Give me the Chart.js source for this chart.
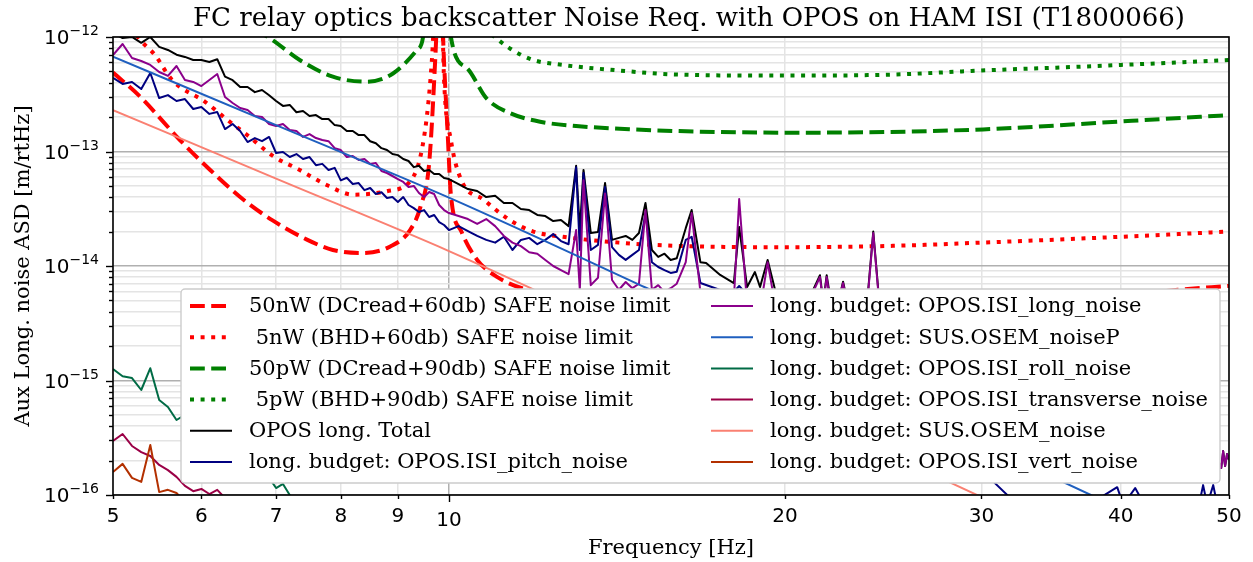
<!DOCTYPE html>
<html>
<head>
<meta charset="utf-8">
<script src="https://cdn.jsdelivr.net/npm/chart.js@4.4.0/dist/chart.umd.min.js"></script>
<style>
  html, body { margin: 0; padding: 0; background: #fff; }
  canvas { display: block; }
</style>
</head>
<body>
<canvas id="chart" width="1253" height="562"></canvas>
<script>
// axis ticks
const xTicks = [5, 6, 7, 8, 9, 10, 20, 30, 40, 50];
const yTicks = [
  1e-16, 2e-16, 3e-16, 4e-16, 5e-16, 6e-16, 7e-16, 8e-16, 9e-16,
  1e-15, 2e-15, 3e-15, 4e-15, 5e-15, 6e-15, 7e-15, 8e-15, 9e-15,
  1e-14, 2e-14, 3e-14, 4e-14, 5e-14, 6e-14, 7e-14, 8e-14, 9e-14,
  1e-13, 2e-13, 3e-13, 4e-13, 5e-13, 6e-13, 7e-13, 8e-13, 9e-13, 1e-12
];
const yDecades = [-12, -13, -14, -15, -16];

// SAFE noise limits
const fDc60 = [5.0, 5.29, 5.74, 6.11, 6.5, 6.95, 7.46, 7.87, 8.37, 8.86, 9.23, 9.43, 9.6, 9.73, 9.81, 9.9, 9.97, 10.04, 10.26, 10.6, 11.05, 11.75, 13, 15, 20, 25, 30, 35, 40, 45, 50];
const vDc60 = [4.9e-13, 3.0e-13, 1.26e-13, 6.9e-14, 4.0e-14, 2.5e-14, 1.7e-14, 1.38e-14, 1.3e-14, 1.48e-14, 2.06e-14, 3.3e-14, 7.9e-14, 7.7e-13, 5e-12, 5.9e-13, 1.54e-13, 4.2e-14, 2.0e-14, 1.13e-14, 8.0e-15, 6.2e-15, 5.4e-15, 5.1e-15, 4.6e-15, 4.7e-15, 4.9e-15, 5.1e-15, 5.5e-15, 6.2e-15, 6.7e-15];

const fBhd60 = [5.0, 5.29, 5.45, 5.65, 6.05, 6.37, 6.59, 6.96, 7.35, 7.77, 8.21, 8.8, 9.29, 9.52, 9.65, 9.81, 9.9, 10.04, 10.26, 10.74, 11.35, 11.9, 12.65, 14.2, 16, 20, 25, 30, 35, 40, 45, 50];
const vBhd60 = [2.1e-12, 9.4e-13, 7.0e-13, 4.2e-13, 2.7e-13, 1.8e-13, 1.4e-13, 9.1e-14, 6.9e-14, 5.1e-14, 4.2e-14, 4.5e-14, 6.0e-14, 1.54e-13, 5.9e-13, 1e-11, 4.2e-13, 1.26e-13, 5.6e-14, 3.8e-14, 2.5e-14, 2.0e-14, 1.8e-14, 1.6e-14, 1.5e-14, 1.46e-14, 1.5e-14, 1.6e-14, 1.7e-14, 1.8e-14, 1.9e-14, 2.0e-14];

const fDc90 = [5.0, 5.74, 6.5, 6.95, 7.35, 7.87, 8.44, 8.91, 9.36, 9.48, 9.81, 10.04, 10.37, 10.81, 11.35, 12.07, 13.0, 14.6, 16.8, 20.6, 30.1, 39.7, 50];
const vDc90 = [1.5e-11, 4.0e-12, 1.4e-12, 9.4e-13, 6.3e-13, 4.5e-13, 4.07e-13, 4.8e-13, 7.7e-13, 1.0e-12, 1e-10, 1.0e-12, 5.4e-13, 2.9e-13, 2.16e-13, 1.82e-13, 1.67e-13, 1.56e-13, 1.49e-13, 1.46e-13, 1.56e-13, 1.82e-13, 2.08e-13];

const fBhd90 = [5.0, 8.21, 9.29, 9.65, 9.81, 10.04, 10.26, 10.74, 11.35, 11.9, 12.65, 14.2, 16, 20, 25, 30, 35, 40, 45, 50];
const vBhd90 = [6.6e-11, 1.3e-12, 1.9e-12, 1.9e-11, 3e-10, 4.0e-12, 1.77e-12, 1.2e-12, 7.9e-13, 6.3e-13, 5.7e-13, 5.1e-13, 4.7e-13, 4.6e-13, 4.7e-13, 5.1e-13, 5.4e-13, 5.7e-13, 6.0e-13, 6.3e-13];

// measured budget, frequency grid [Hz]
const freqA = [5.0, 5.1, 5.2, 5.3, 5.4, 5.5, 5.6, 5.7, 5.8, 5.9, 6.0, 6.1, 6.2, 6.3, 6.4, 6.5, 6.6, 6.7, 6.8, 6.9, 7.0, 7.1, 7.2, 7.3, 7.4, 7.5, 7.6, 7.7, 7.8, 7.9, 8.0, 8.1, 8.2, 8.3, 8.4, 8.5, 8.6, 8.7, 8.8, 8.9, 9.0, 9.1, 9.2, 9.3, 9.4, 9.5, 9.6, 9.7, 9.8, 9.9, 10.0];
const freqB = [10.2, 10.4, 10.6, 10.8, 11.0, 11.2, 11.4, 11.6, 11.8, 12.0, 12.2, 12.4, 12.6, 12.8, 13.0, 13.1, 13.2, 13.4, 13.6, 13.8, 14.0, 14.2, 14.4, 14.6, 14.8, 15.0, 15.2, 15.4, 15.6, 15.8, 16.0];
const freqC = [16.3, 16.5, 16.8, 17.0, 17.5, 18.0, 18.2, 18.5, 18.8, 19.0, 19.3, 19.6, 20.0, 21.0, 21.5, 21.65, 21.8, 22.0, 22.3, 22.55, 22.8, 23.75, 24.0, 24.25, 25, 26, 28, 30, 32, 35, 38, 39.7, 40.2, 41.2, 42, 45, 47, 47.4, 47.8, 48.4, 48.8, 49.2, 49.4, 49.6, 49.8, 50];
const freqLow = [5.0, 5.1, 5.2, 5.3, 5.4, 5.5, 5.6, 5.7, 5.8, 5.9, 6.0, 6.1, 6.2, 6.3, 6.4, 6.5, 6.6, 6.7, 6.8, 6.9, 7.0, 7.1, 7.2, 7.3, 7.4];

const totalA = [1.08e-12, 9.8e-13, 1.0e-12, 8.9e-13, 1.0e-12, 8.2e-13, 7.7e-13, 7.0e-13, 6.7e-13, 6.3e-13, 6.3e-13, 6.05e-13, 6.4e-13, 4.5e-13, 4.2e-13, 3.66e-13, 3.66e-13, 3.3e-13, 3.44e-13, 3.1e-13, 2.76e-13, 2.5e-13, 2.55e-13, 2.2e-13, 2.26e-13, 2.04e-13, 2.08e-13, 1.92e-13, 1.92e-13, 1.7e-13, 1.67e-13, 1.51e-13, 1.51e-13, 1.39e-13, 1.39e-13, 1.23e-13, 1.18e-13, 1.07e-13, 1.03e-13, 9.5e-14, 9.3e-14, 8.6e-14, 8.26e-14, 7.3e-14, 7.5e-14, 6.75e-14, 6.9e-14, 6.36e-14, 6.36e-14, 5.87e-14, 5.75e-14];
const totalB = [5.2e-14, 4.7e-14, 4.52e-14, 4.0e-14, 4.1e-14, 3.55e-14, 3.55e-14, 3.15e-14, 3.08e-14, 2.79e-14, 2.73e-14, 2.47e-14, 2.52e-14, 2.23e-14, 7.5e-14, 2.06e-14, 6.9e-14, 1.94e-14, 1.98e-14, 5.3e-14, 1.69e-14, 1.76e-14, 1.83e-14, 1.69e-14, 1.94e-14, 3.55e-14, 1.38e-14, 1.2e-14, 1.28e-14, 1.13e-14, 1.17e-14];
const totalC = [2.14e-14, 3.08e-14, 1.08e-14, 1.06e-14, 8.35e-15, 7.1e-15, 2.19e-14, 6.55e-15, 8.86e-15, 6.55e-15, 1.13e-14, 6.17e-15, 5.81e-15, 5.05e-15, 8.3e-15, 4.85e-15, 8.3e-15, 4.75e-15, 4.57e-15, 7.3e-15, 4.47e-15, 6.17e-15, 2.0e-14, 6.17e-15, 3.73e-15, 3.24e-15, 2.5e-15, 1.67e-15, 1.36e-15, 9.1e-16, 5.53e-16, 4.52e-16, 4.09e-16, 3.9e-16, 3.7e-16, 2.9e-16, 2.55e-16, 2.47e-16, 2.37e-16, 2.27e-16, 2.1e-16, 1.72e-16, 2.42e-16, 1.79e-16, 2.28e-16, 2.02e-16];

const pitchA = [4.39e-13, 3.89e-13, 4.05e-13, 3.51e-13, 4.85e-13, 2.93e-13, 3.11e-13, 2.76e-13, 2.87e-13, 2.35e-13, 2.45e-13, 2.13e-13, 2.21e-13, 1.57e-13, 1.74e-13, 1.51e-13, 1.21e-13, 1.31e-13, 1.23e-13, 1.34e-13, 9.7e-14, 9.9e-14, 8.95e-14, 9.5e-14, 8.6e-14, 8.95e-14, 7.6e-14, 7.8e-14, 6.9e-14, 7.2e-14, 5.6e-14, 5.9e-14, 5.2e-14, 5.3e-14, 4.6e-14, 4.8e-14, 4.25e-14, 4.4e-14, 3.93e-14, 4.0e-14, 3.62e-14, 4.0e-14, 3.41e-14, 3.2e-14, 2.96e-14, 3.08e-14, 2.68e-14, 2.79e-14, 2.42e-14, 2.28e-14, 2.06e-14];
const pitchB = [2.23e-14, 2.02e-14, 1.83e-14, 1.69e-14, 1.6e-14, 1.8e-14, 1.38e-14, 1.69e-14, 1.76e-14, 1.55e-14, 1.69e-14, 1.9e-14, 1.65e-14, 1.55e-14, 7.3e-14, 1.38e-14, 6.5e-14, 1.38e-14, 1.53e-14, 4.9e-14, 1.46e-14, 1.25e-14, 1.13e-14, 1.25e-14, 1.38e-14, 2.9e-14, 1.08e-14, 9.8e-15, 9.2e-15, 8.7e-15, 8.9e-15];
const pitchC = [1.69e-14, 1.8e-14, 7.1e-15, 6.82e-15, 6.17e-15, 5.93e-15, 6.69e-15, 5.58e-15, 5.26e-15, 5.05e-15, 5.93e-15, 4.85e-15, 4.57e-15, 4.13e-15, 5.05e-15, 3.73e-15, 5.05e-15, 3.73e-15, 3.51e-15, 4.57e-15, 3.38e-15, 3.05e-15, 5.05e-15, 2.87e-15, 2.26e-15, 1.51e-15, 6.75e-16, 1.65e-16, 9.0e-17, 8.2e-17, 9.0e-17, 1.17e-16, 8.2e-17, 1.15e-16, 8.2e-17, 8.2e-17, 8.2e-17, 1.22e-16, 8.2e-17, 1.22e-16, 8.2e-17, 7.4e-17, 8.2e-17, 7.4e-17, 8.2e-17, 7.4e-17];

const longA = [6.96e-13, 8.69e-13, 6.55e-13, 6.17e-13, 5.7e-13, 4.95e-13, 4.57e-13, 5.58e-13, 4.21e-13, 4.05e-13, 3.73e-13, 4.21e-13, 4.75e-13, 2.99e-13, 2.65e-13, 2.4e-13, 2.3e-13, 2.04e-13, 2.0e-13, 1.74e-13, 1.67e-13, 1.74e-13, 1.54e-13, 1.51e-13, 1.34e-13, 1.42e-13, 1.31e-13, 1.26e-13, 1.23e-13, 1.07e-13, 1.03e-13, 8.95e-14, 9.13e-14, 8.43e-14, 8.6e-14, 7.78e-14, 7.94e-14, 6.75e-14, 6.49e-14, 6.11e-14, 5.75e-14, 5.42e-14, 4.9e-14, 5.0e-14, 4.34e-14, 4.0e-14, 4.43e-14, 4.25e-14, 3.41e-14, 3.08e-14, 2.9e-14];
const longB = [2.73e-14, 2.57e-14, 2.33e-14, 2.57e-14, 2.23e-14, 1.83e-14, 1.6e-14, 1.49e-14, 1.32e-14, 1.28e-14, 1.13e-14, 1.0e-14, 9.2e-15, 8.5e-15, 2.06e-14, 6.2e-15, 5.6e-14, 6.8e-15, 7.9e-15, 4.3e-14, 7.55e-15, 6.2e-15, 7.25e-15, 6.4e-15, 7.0e-15, 3.08e-14, 6.2e-15, 6.8e-15, 5.9e-15, 6.4e-15, 7.0e-15];
const longC = [1.08e-14, 2.9e-14, 5.93e-15, 5.05e-15, 5.58e-15, 5.05e-15, 3.85e-14, 4.57e-15, 5.05e-15, 4.13e-15, 1.08e-14, 4.57e-15, 4.13e-15, 4.85e-15, 8.02e-15, 4.57e-15, 8.02e-15, 4.3e-15, 4.57e-15, 7.1e-15, 4.13e-15, 5.93e-15, 1.94e-14, 5.93e-15, 3.51e-15, 3.05e-15, 2.26e-15, 1.57e-15, 1.23e-15, 8.26e-16, 5.0e-16, 4.09e-16, 3.7e-16, 3.5e-16, 3.34e-16, 2.73e-16, 2.47e-16, 2.37e-16, 2.24e-16, 2.15e-16, 2.02e-16, 1.72e-16, 2.42e-16, 1.79e-16, 2.28e-16, 2.02e-16];

const rollLow = [1.26e-15, 1.09e-15, 1.05e-15, 8.26e-16, 1.28e-15, 6.75e-16, 5.87e-16, 4.52e-16, 5.0e-16, 4.09e-16, 3.7e-16, 3.85e-16, 3.02e-16, 2.73e-16, 2.47e-16, 2.24e-16, 2.02e-16, 1.83e-16, 1.65e-16, 1.41e-16, 1.15e-16, 1.25e-16, 1.0e-16, 9.0e-17, 8.2e-17];
const transLow = [2.96e-16, 3.41e-16, 2.68e-16, 2.37e-16, 2.19e-16, 1.83e-16, 1.65e-16, 1.44e-16, 1.2e-16, 1.08e-16, 1.13e-16, 1.02e-16, 1.11e-16, 9.4e-17, 8.7e-17, 8.0e-17, 7.4e-17, 7.1e-17, 6.7e-17, 6.3e-17, 6.05e-17, 5.8e-17, 5.5e-17, 5.3e-17, 4.95e-17];
const vertLow = [1.59e-16, 1.87e-16, 1.41e-16, 1.3e-16, 2.73e-16, 1.06e-16, 1.11e-16, 1.04e-16, 8.7e-17, 8.0e-17, 7.4e-17, 6.8e-17, 6.4e-17, 6.05e-17, 5.7e-17, 5.4e-17, 5.05e-17, 4.75e-17, 4.47e-17, 4.2e-17, 4.05e-17, 3.9e-17, 3.66e-17, 3.5e-17, 3.3e-17];

// OSEM sensor noise (smooth)
const fOsem = [5, 7, 10, 15, 20, 30, 37.6, 50];
const osemP = [6.73e-13, 1.7e-13, 3.96e-14, 6.49e-15, 1.76e-15, 2.8e-16, 1.0e-16, 2.8e-17];
const osem = [2.3e-13, 5.8e-14, 1.35e-14, 2.2e-15, 6.0e-16, 9.6e-17, 3.4e-17, 9.6e-18];

const pts = (f, v) => f.map((x, i) => ({ x: x, y: v[i] }));
const fMeas = freqA.concat(freqB, freqC);

const DASH = [14.8, 6.4];
const DOT = [4, 6.6];

const series = [
  { label: '50nW (DCread+60db) SAFE noise limit', data: pts(fDc60, vDc60), color: '#ff0000', w: 4, dash: DASH, smooth: true },
  { label: ' 5nW (BHD+60db) SAFE noise limit', data: pts(fBhd60, vBhd60), color: '#ff0000', w: 4, dash: DOT, smooth: true },
  { label: '50pW (DCread+90db) SAFE noise limit', data: pts(fDc90, vDc90), color: '#008000', w: 4, dash: DASH, smooth: true },
  { label: ' 5pW (BHD+90db) SAFE noise limit', data: pts(fBhd90, vBhd90), color: '#008000', w: 4, dash: DOT, smooth: true },
  { label: 'OPOS long. Total', data: pts(fMeas, totalA.concat(totalB, totalC)), color: '#000000', w: 2 },
  { label: 'long. budget: OPOS.ISI_pitch_noise', data: pts(fMeas, pitchA.concat(pitchB, pitchC)), color: '#000080', w: 2 },
  { label: 'long. budget: OPOS.ISI_long_noise', data: pts(fMeas, longA.concat(longB, longC)), color: '#8b008b', w: 2 },
  { label: 'long. budget: SUS.OSEM_noiseP', data: pts(fOsem, osemP), color: '#1f5fbf', w: 2, smooth: true },
  { label: 'long. budget: OPOS.ISI_roll_noise', data: pts(freqLow, rollLow), color: '#006b45', w: 2 },
  { label: 'long. budget: OPOS.ISI_transverse_noise', data: pts(freqLow, transLow), color: '#9b0046', w: 2 },
  { label: 'long. budget: SUS.OSEM_noise', data: pts(fOsem, osem), color: '#fa8072', w: 2, smooth: true },
  { label: 'long. budget: OPOS.ISI_vert_noise', data: pts(freqLow, vertLow), color: '#b33000', w: 2 }
];

const serif = '"DejaVu Serif", serif';
const sans = '"DejaVu Sans", sans-serif';

// frame, ticks, labels, title and the two-column legend
const decor = {
  id: 'decor',
  afterDraw(chart) {
    const ctx = chart.ctx;
    const a = chart.chartArea;
    const xs = chart.scales.x, ys = chart.scales.y;
    ctx.save();

    // frame
    ctx.strokeStyle = '#000';
    ctx.lineWidth = 1.6;
    ctx.strokeRect(a.left, a.top, a.right - a.left, a.bottom - a.top);

    // y ticks
    ctx.lineWidth = 1.4;
    yTicks.forEach(v => {
      const y = Math.round(ys.getPixelForValue(v)) + 0.5;
      const major = yDecades.some(e => Math.abs(Math.log10(v) - e) < 1e-6);
      ctx.beginPath();
      ctx.moveTo(a.left, y);
      ctx.lineTo(a.left - (major ? 7 : 4), y);
      ctx.stroke();
    });
    // x ticks
    xTicks.forEach(v => {
      const x = Math.round(xs.getPixelForValue(v)) + 0.5;
      ctx.beginPath();
      ctx.moveTo(x, a.bottom);
      ctx.lineTo(x, a.bottom + (v === 10 ? 7 : 4));
      ctx.stroke();
    });

    // y tick labels 10^n
    ctx.fillStyle = '#000';
    ctx.textBaseline = 'alphabetic';
    ctx.textAlign = 'left';
    yDecades.forEach(e => {
      const y = ys.getPixelForValue(Math.pow(10, e));
      const sup = '\u2212' + Math.abs(e);
      ctx.font = '14px ' + sans;
      const ws = ctx.measureText(sup).width;
      ctx.font = '20px ' + sans;
      const wb = ctx.measureText('10').width;
      const right = a.left - 14;
      ctx.fillText('10', right - ws - wb, y + 7);
      ctx.font = '14px ' + sans;
      ctx.fillText(sup, right - ws, y - 2);
    });

    // x tick labels
    ctx.font = '20px ' + sans;
    ctx.textAlign = 'center';
    xTicks.forEach(v => {
      const x = xs.getPixelForValue(v);
      ctx.fillText(String(v), x, v === 10 ? 526 : 522);
    });

    // title and axis labels
    ctx.font = '26px ' + serif;
    ctx.fillText('FC relay optics backscatter Noise Req. with OPOS on HAM ISI (T1800066)', 689, 26);
    ctx.font = '21px ' + serif;
    ctx.fillText('Frequency [Hz]', (a.left + a.right) / 2, 554);
    ctx.save();
    ctx.translate(29, (a.top + a.bottom) / 2);
    ctx.rotate(-Math.PI / 2);
    ctx.fillText('Aux Long. noise ASD [m/rtHz]', 0, 0);
    ctx.restore();

    // legend
    const bx = 181, by = 289, bw = 1039, bh = 194;
    ctx.beginPath();
    ctx.roundRect(bx, by, bw, bh, 4);
    ctx.fillStyle = '#ffffff';
    ctx.fill();
    ctx.strokeStyle = '#cccccc';
    ctx.lineWidth = 1.4;
    ctx.stroke();

    const ds = chart.data.datasets;
    ctx.font = '21px ' + serif;
    ctx.textAlign = 'left';
    ctx.textBaseline = 'middle';
    ds.forEach((d, i) => {
      const col = i < 6 ? 0 : 1;
      const row = i % 6;
      const hx = col === 0 ? 190 : 711;
      const ty = 306 + row * 31.2;
      ctx.save();
      ctx.strokeStyle = d.borderColor;
      ctx.lineWidth = d.borderWidth;
      ctx.setLineDash(d.borderDash || []);
      ctx.lineCap = 'butt';
      ctx.beginPath();
      ctx.moveTo(hx, ty);
      ctx.lineTo(hx + 42, ty);
      ctx.stroke();
      ctx.restore();
      ctx.fillStyle = '#000';
      ctx.fillText(d.label, hx + 59, ty + 1);
    });
    ctx.restore();
  }
};

const gridColor = (major) => major ? '#b0b0b0' : '#e4e4e4';

new Chart(document.getElementById('chart').getContext('2d'), {
  type: 'line',
  data: {
    datasets: series.map((s, i) => ({
      label: s.label,
      data: s.data,
      borderColor: s.color,
      borderWidth: s.w,
      borderDash: s.dash || [],
      borderJoinStyle: 'round',
      borderCapStyle: 'butt',
      cubicInterpolationMode: s.smooth ? 'monotone' : 'default',
      tension: 0,
      pointRadius: 0,
      fill: false,
      clip: 0,
      order: series.length - 1 - i
    }))
  },
  options: {
    responsive: false,
    devicePixelRatio: 1,
    animation: false,
    events: [],
    layout: { padding: { left: 113, right: 24, top: 37, bottom: 67 } },
    plugins: { legend: { display: false }, title: { display: false }, tooltip: { enabled: false } },
    scales: {
      x: {
        type: 'logarithmic', min: 5, max: 50,
        afterBuildTicks: s => { s.ticks = xTicks.map(v => ({ value: v })); },
        afterFit: s => { s.height = 0; },
        ticks: { display: false },
        border: { display: false },
        grid: { drawTicks: false, lineWidth: 1.5, color: c => gridColor(c.tick && c.tick.value === 10) }
      },
      y: {
        type: 'logarithmic', min: 1e-16, max: 1e-12,
        afterBuildTicks: s => { s.ticks = yTicks.map(v => ({ value: v })); },
        afterFit: s => { s.width = 0; },
        ticks: { display: false },
        border: { display: false },
        grid: {
          drawTicks: false, lineWidth: 1.5,
          color: c => gridColor(c.tick && yDecades.some(e => Math.abs(Math.log10(c.tick.value) - e) < 1e-6))
        }
      }
    }
  },
  plugins: [decor]
});
</script>
</body>
</html>
